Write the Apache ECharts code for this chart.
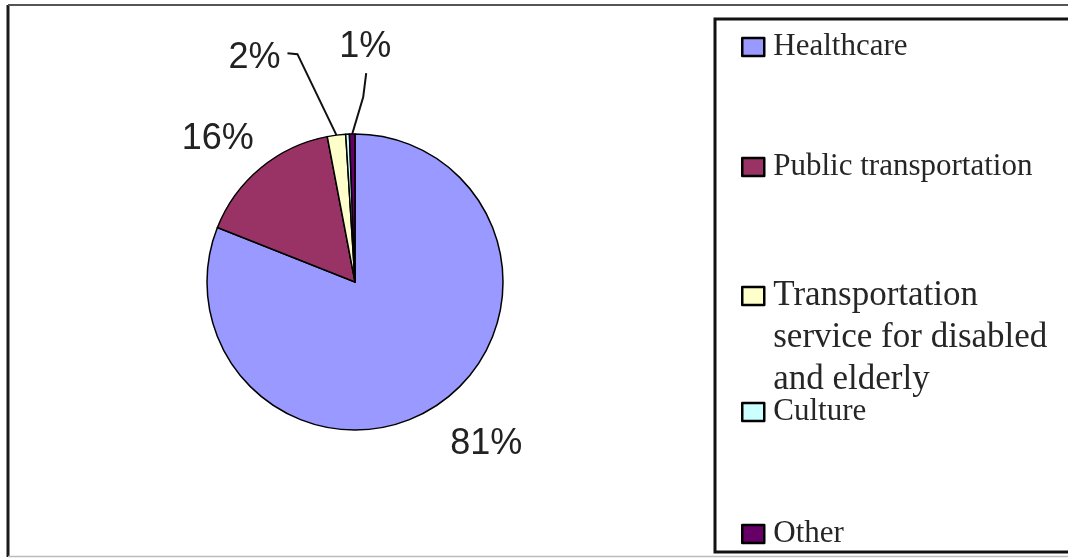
<!DOCTYPE html>
<html>
<head>
<meta charset="utf-8">
<script src="https://cdn.jsdelivr.net/npm/echarts@6/dist/echarts.min.js"></script>
<style>
  html, body { margin: 0; padding: 0; background: #ffffff; }
  #chart { width: 1068px; height: 558px; }
</style>
</head>
<body>
<div id="chart"></div>
<script>
// Spending shares by category (percent of total)
const categories = [
  'Healthcare',
  'Public transportation',
  'Transportation service for disabled and elderly',
  'Culture',
  'Other'
];
const shares = [81, 16, 2, 0.4, 0.6];
const legendLabels = [
  'Healthcare',
  'Public transportation',
  'Transportation\nservice for disabled\nand elderly',
  'Culture',
  'Other'
];

const palette = ['#9999ff', '#993366', '#ffffcc', '#ccffff', '#660066'];

// Label offsets from each slice's rim anchor; optional leader-line bends
const labelPlacement = {
  0: { dx: 48, dy: 40 },
  1: { dx: -43, dy: -29 },
  2: { dx: -82, dy: -77, line: [[-39, -81], [-49, -82]] },
  4: { dx: 13, dy: -87, line: [[11, -37], [14, -61]] }
};

// Legend rows: icon top edge and text metrics for each entry
const legendRows = [
  { iconTop: 38, fontSize: 31, lineHeight: 34 },
  { iconTop: 158, fontSize: 31, lineHeight: 34 },
  { iconTop: 287, fontSize: 35, lineHeight: 42 },
  { iconTop: 403, fontSize: 31, lineHeight: 34 },
  { iconTop: 525, fontSize: 31, lineHeight: 34 }
];
const ICON_W = 22, ICON_H = 18;

// Multi-line legend text is centred on its icon; blank lines above keep
// the first line level with the icon.
function legendText(i) {
  const lines = legendLabels[i].split('\n');
  const pad = lines.length - 1;
  return '\n'.repeat(pad) + legendLabels[i];
}

const total = shares.reduce((a, b) => a + b, 0);

const chart = echarts.init(document.getElementById('chart'), null, { renderer: 'canvas' });

const legends = categories.map((name, i) => {
  const row = legendRows[i];
  const lines = legendText(i).split('\n').length;
  const boxH = lines * row.lineHeight;
  return {
    left: 741,
    top: row.iconTop - (boxH - ICON_H) / 2,
    padding: 0,
    orient: 'vertical',
    selectedMode: false,
    icon: 'rect',
    itemWidth: ICON_W,
    itemHeight: ICON_H,
    itemStyle: { borderColor: '#000000', borderWidth: 2.5 },
    formatter: (n) => legendText(categories.indexOf(n)),
    textStyle: {
      fontFamily: 'Liberation Serif',
      fontSize: row.fontSize,
      lineHeight: row.lineHeight,
      color: '#262626',
      padding: [0, 0, 0, 4]
    },
    data: [name]
  };
});

const seriesData = categories.map((name, i) => {
  const pct = shares[i] / total * 100;
  const labelled = Math.round(pct) >= 1;
  const spec = labelPlacement[i];
  return {
    name,
    value: shares[i],
    label: { show: labelled },
    labelLine: labelled
      ? { show: true, lineStyle: { width: spec && spec.line ? 2 : 0 } }
      : { show: false }
  };
});

const option = {
  animation: false,
  backgroundColor: '#ffffff',
  color: palette,
  legend: legends,
  graphic: [
    // outer frame
    { type: 'line', shape: { x1: 8, y1: 5, x2: 8, y2: 557 }, style: { stroke: '#1a1a1a', lineWidth: 3 }, silent: true },
    { type: 'line', shape: { x1: 8, y1: 5, x2: 1070, y2: 5 }, style: { stroke: '#555555', lineWidth: 2 }, silent: true },
    { type: 'line', shape: { x1: 8, y1: 556.5, x2: 1070, y2: 556.5 }, style: { stroke: '#bbbbbb', lineWidth: 1.5 }, silent: true },
    // legend box
    { type: 'rect', shape: { x: 715, y: 19, width: 400, height: 533 }, style: { fill: 'none', stroke: '#111111', lineWidth: 3 }, silent: true, z: -1 }
  ],
  series: [{
    type: 'pie',
    center: [355, 282],
    radius: 148,
    startAngle: 90,
    clockwise: true,
    avoidLabelOverlap: false,
    emphasis: { disabled: true },
    itemStyle: { borderColor: '#000000', borderWidth: 1.5 },
    label: {
      position: 'outside',
      fontFamily: 'Liberation Sans',
      fontSize: 36,
      color: '#222222',
      formatter: (p) => Math.round(p.percent) + '%'
    },
    labelLine: {
      length: 20,
      length2: 10,
      lineStyle: { color: '#111111', width: 2 }
    },
    labelLayout: function (params) {
      const spec = labelPlacement[params.dataIndex];
      const pts = params.labelLinePoints;
      if (!spec || !pts) return {};
      const ax = pts[0][0], ay = pts[0][1];
      const out = {
        x: ax + spec.dx,
        y: ay + spec.dy,
        align: 'center',
        verticalAlign: 'middle'
      };
      if (spec.line) {
        out.labelLinePoints = [[ax, ay]].concat(spec.line.map(([u, v]) => [ax + u, ay + v]));
      }
      return out;
    },
    data: seriesData
  }]
};

chart.setOption(option);
</script>
</body>
</html>
